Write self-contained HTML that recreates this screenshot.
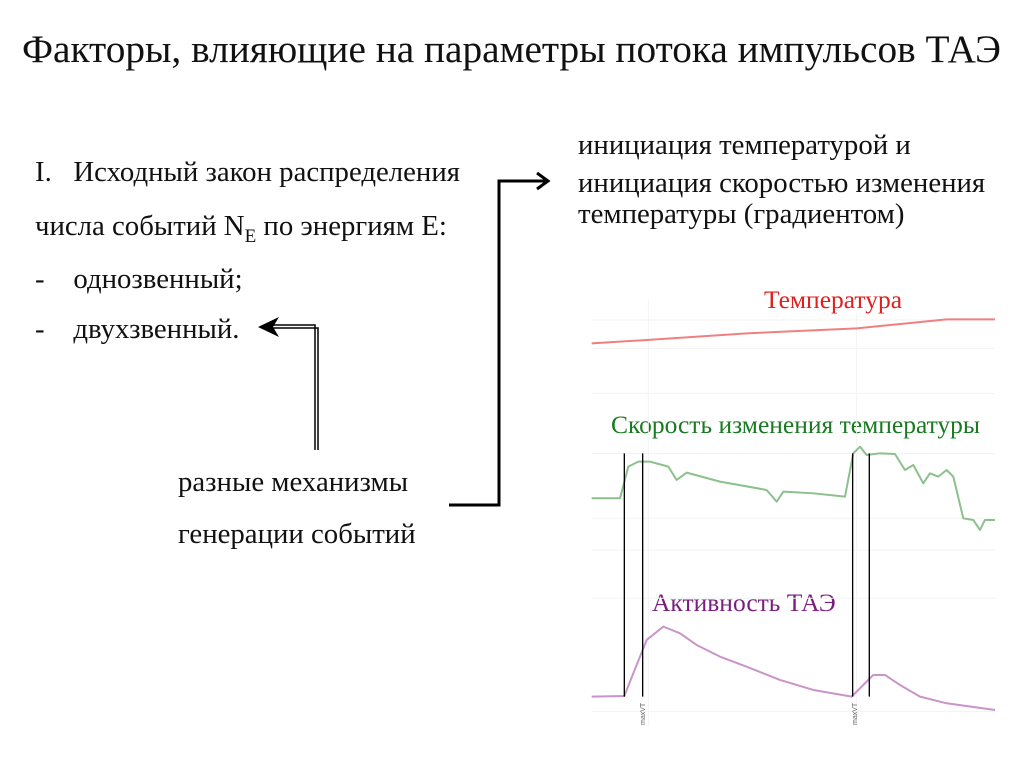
<html><head><style>
body{margin:0;width:1024px;height:767px;background:#fff;position:relative;overflow:hidden;font-family:"Liberation Serif",serif;color:#111}
.t{position:absolute;white-space:nowrap;font-size:28.8px;line-height:1}
.c{font-size:25.5px}
</style></head><body>
<div class="t" style="left:22px;top:30px;font-size:39.3px">Факторы, влияющие на параметры потока импульсов ТАЭ</div>
<div class="t" style="left:35px;top:158px">I.&nbsp;&nbsp;&nbsp;Исходный закон распределения</div>
<div class="t" style="left:35px;top:212px">числа событий N<sub style="font-size:19px">E</sub> по энергиям E:</div>
<div class="t" style="left:35px;top:265px">-&nbsp;&nbsp;&nbsp;&nbsp;однозвенный;</div>
<div class="t" style="left:35px;top:315px">-&nbsp;&nbsp;&nbsp;&nbsp;двухзвенный.</div>
<div class="t" style="left:178px;top:468px">разные механизмы</div>
<div class="t" style="left:178px;top:520px">генерации событий</div>
<div class="t" style="left:578px;top:131px">инициация температурой и</div>
<div class="t" style="left:578px;top:169px">инициация скоростью изменения</div>
<div class="t" style="left:578px;top:200px">температуры (градиентом)</div>
<div class="t c" style="left:764px;top:287px;color:#e0201e">Температура</div>
<div class="t c" style="left:611px;top:412px;color:#1a7a22">Скорость изменения температуры</div>
<div class="t c" style="left:652px;top:590px;color:#7a1d7e">Активность ТАЭ</div>
<svg width="1024" height="767" style="position:absolute;left:0;top:0">
<g stroke="#000" fill="none">
<path d="M318 450V328H272M315 450V325H272" stroke-width="1.5"/>
<path d="M258 327L279 317L273 327L279 337Z" fill="#000" stroke="none"/>
<path d="M449 505H499V181H545" stroke-width="3"/>
<path d="M537 173L548 181L537 189" stroke-width="3"/>
</g>
<g transform="translate(580,280) scale(0.3333)" fill="none">
<g stroke="#f3f3f3" stroke-width="3">
<path d="M35 120H1245M35 205H1245M35 340H1245M35 520H1245M35 715H1245M35 810H1245M35 955H1245M35 1295H1245"/>
<path d="M205 60V1340M830 100V1340"/>
</g>
<path d="M35 190L200 180L500 160L830 145L1100 118L1245 118" stroke="#f08080" stroke-width="6"/>
<path d="M35 655L120 655L145 560L175 545L210 545L265 560L290 600L320 578L420 605L560 630L590 665L610 635L700 640L795 650L820 520L840 500L860 525L900 520L945 522L975 570L1000 555L1030 610L1050 580L1075 590L1100 570L1120 590L1150 715L1180 720L1200 750L1215 720L1245 720" stroke="#8cc08c" stroke-width="6" stroke-linejoin="round"/>
<path d="M35 1250L133 1248L160 1180L200 1080L250 1040L300 1060L350 1095L420 1130L500 1160L600 1200L700 1230L815 1250L845 1220L880 1185L915 1185L960 1215L1020 1250L1100 1270L1245 1290" stroke="#c994c9" stroke-width="6" stroke-linejoin="round"/>
<path d="M133 520V1250M188 520V1250M818 520V1250M868 520V1250" stroke="#000" stroke-width="4"/>
</g>
<text font-family="Liberation Sans,sans-serif" font-size="7" fill="#666" transform="translate(645,725) rotate(-90)">maxVT</text>
<text font-family="Liberation Sans,sans-serif" font-size="7" fill="#666" transform="translate(857,725) rotate(-90)">maxVT</text>
</svg>
</body></html>
